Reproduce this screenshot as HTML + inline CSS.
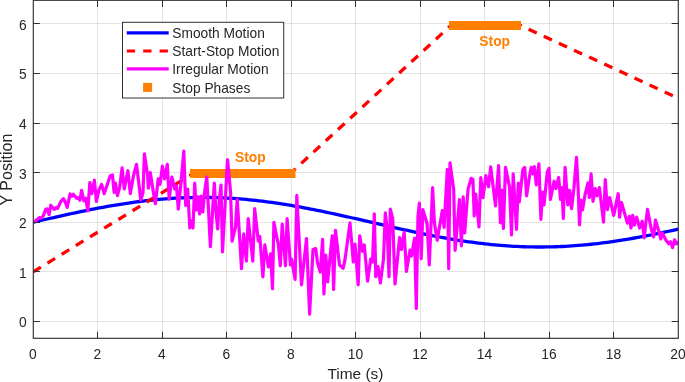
<!DOCTYPE html>
<html><head><meta charset="utf-8"><title>Motion plot</title>
<style>
html,body{margin:0;padding:0;background:#fff;}
body{width:685px;height:382px;overflow:hidden;}
svg{display:block;will-change:transform;}
text{font-family:"Liberation Sans",sans-serif;fill:#262626;}
</style></head><body>
<svg width="685" height="382" viewBox="0 0 685 382">
<rect x="0" y="0" width="685" height="382" fill="#ffffff"/>
<path d="M97.50 0.3V338.3 M162.50 0.3V338.3 M226.50 0.3V338.3 M291.50 0.3V338.3 M355.50 0.3V338.3 M420.50 0.3V338.3 M484.50 0.3V338.3 M549.50 0.3V338.3 M613.50 0.3V338.3 M33.3 321.50H678.3 M33.3 271.50H678.3 M33.3 222.50H678.3 M33.3 172.50H678.3 M33.3 123.50H678.3 M33.3 73.50H678.3 M33.3 23.50H678.3" stroke="#262626" stroke-opacity="0.125" stroke-width="1" fill="none"/>
<clipPath id="c"><rect x="33.3" y="0" width="645.0" height="338.3"/></clipPath>
<g clip-path="url(#c)" fill="none" stroke-linejoin="round">
<polyline points="33.30,222.22 36.52,221.48 39.75,220.73 42.97,219.99 46.20,219.25 49.42,218.51 52.65,217.78 55.88,217.05 59.10,216.33 62.33,215.61 65.55,214.89 68.78,214.19 72.00,213.49 75.22,212.79 78.45,212.11 81.67,211.44 84.90,210.77 88.12,210.12 91.35,209.47 94.57,208.84 97.80,208.22 101.03,207.61 104.25,207.02 107.47,206.44 110.70,205.87 113.92,205.32 117.15,204.78 120.38,204.26 123.60,203.76 126.82,203.27 130.05,202.80 133.28,202.34 136.50,201.91 139.72,201.49 142.95,201.09 146.18,200.71 149.40,200.35 152.62,200.01 155.85,199.69 159.07,199.39 162.30,199.11 165.52,198.85 168.75,198.61 171.97,198.40 175.20,198.20 178.43,198.03 181.65,197.87 184.88,197.74 188.10,197.64 191.32,197.55 194.55,197.49 197.77,197.45 201.00,197.43 204.22,197.43 207.45,197.46 210.68,197.50 213.90,197.57 217.12,197.66 220.35,197.78 223.57,197.92 226.80,198.07 230.02,198.25 233.25,198.45 236.47,198.68 239.70,198.92 242.93,199.19 246.15,199.47 249.38,199.78 252.60,200.10 255.82,200.45 259.05,200.82 262.27,201.20 265.50,201.61 268.72,202.03 271.95,202.47 275.18,202.93 278.40,203.40 281.62,203.90 284.85,204.41 288.07,204.93 291.30,205.47 294.52,206.03 297.75,206.60 300.98,207.18 304.20,207.78 307.43,208.39 310.65,209.02 313.88,209.65 317.10,210.30 320.33,210.96 323.55,211.62 326.77,212.30 330.00,212.99 333.23,213.68 336.45,214.38 339.68,215.09 342.90,215.81 346.12,216.53 349.35,217.26 352.58,217.99 355.80,218.72 359.02,219.46 362.25,220.20 365.48,220.94 368.70,221.68 371.93,222.43 375.15,223.17 378.38,223.91 381.60,224.66 384.83,225.40 388.05,226.13 391.27,226.86 394.50,227.59 397.73,228.32 400.95,229.03 404.18,229.75 407.40,230.45 410.62,231.15 413.85,231.84 417.08,232.52 420.30,233.19 423.52,233.85 426.75,234.51 429.98,235.15 433.20,235.78 436.43,236.39 439.65,237.00 442.88,237.59 446.10,238.16 449.33,238.73 452.55,239.27 455.77,239.81 459.00,240.32 462.23,240.82 465.45,241.31 468.68,241.77 471.90,242.22 475.12,242.65 478.35,243.06 481.58,243.46 484.80,243.83 488.02,244.19 491.25,244.52 494.48,244.84 497.70,245.13 500.93,245.40 504.15,245.66 507.38,245.89 510.60,246.10 513.83,246.29 517.05,246.46 520.27,246.60 523.50,246.73 526.73,246.83 529.95,246.91 533.17,246.97 536.40,247.00 539.62,247.01 542.85,247.01 546.07,246.97 549.30,246.92 552.52,246.84 555.75,246.75 558.98,246.62 562.20,246.48 565.42,246.32 568.65,246.13 571.87,245.93 575.10,245.70 578.32,245.45 581.55,245.18 584.77,244.88 588.00,244.57 591.23,244.24 594.45,243.89 597.67,243.52 600.90,243.13 604.12,242.72 607.35,242.29 610.57,241.84 613.80,241.38 617.02,240.90 620.25,240.40 623.48,239.89 626.70,239.36 629.92,238.81 633.15,238.25 636.37,237.68 639.60,237.09 642.82,236.49 646.05,235.87 649.27,235.25 652.50,234.61 655.73,233.96 658.95,233.30 662.17,232.63 665.40,231.95 668.62,231.26 671.85,230.56 675.07,229.86 678.30,229.15" stroke="#0000ff" stroke-width="3.3"/>
<polyline points="33.30,271.81 194.55,172.63 291.30,172.63 452.55,23.86 517.05,23.86 678.30,98.24" stroke="#ff0000" stroke-width="3.3" stroke-dasharray="8.92 7.73"/>
<path d="M194.55 173.43H291.00 M453.55 25.46H516.55" stroke="#ff8000" stroke-width="9" stroke-linecap="square"/>
<polyline points="33.3,222.0 36.0,220.5 39.2,217.6 41.2,218.1 43.1,216.2 45.8,209.2 47.1,208.9 49.1,214.7 50.8,205.2 54.3,209.4 56.3,207.4 57.6,208.4 60.9,201.3 63.5,198.6 65.5,202.8 67.2,207.4 70.1,193.9 72.0,196.3 73.4,194.3 76.6,198.2 78.0,197.6 79.9,200.2 81.6,190.4 83.9,200.9 85.8,198.2 87.8,211.0 89.8,182.5 91.8,193.7 94.4,180.2 96.4,201.5 99.0,189.7 101.6,184.5 104.2,193.7 106.9,185.8 110.1,175.9 112.5,175.0 114.1,192.3 115.4,183.1 117.4,195.6 119.7,187.2 122.1,167.9 124.3,189.0 125.7,181.7 127.9,170.7 130.3,193.6 133.4,176.2 136.5,164.3 140.8,200.0 143.0,192.7 144.4,153.8 147.5,174.3 148.4,188.1 150.3,172.5 153.0,189.9 155.4,203.7 158.2,178.9 160.0,184.4 162.4,166.1 164.6,178.9 167.3,164.3 169.2,199.1 171.9,177.1 174.7,189.0 176.5,186.3 178.3,209.2 181.1,181.7 183.8,151.2 185.7,205.5 187.7,189.0 189.8,228.0 191.4,221.0 193.0,228.0 194.7,183.0 196.4,210.0 198.0,197.0 199.6,214.0 201.2,196.0 202.8,212.0 204.6,192.0 206.8,177.0 210.4,246.6 214.3,183.0 216.0,212.0 217.7,229.0 219.3,200.0 221.0,185.0 222.5,252.0 227.5,159.5 230.5,191.2 232.1,241.1 235.4,227.3 237.2,199.4 239.1,229.2 241.5,268.6 243.7,233.8 246.4,261.2 248.2,218.7 252.8,261.2 254.7,208.6 258.3,241.1 259.8,236.5 262.9,276.8 264.8,244.8 268.4,266.8 270.6,253.9 272.5,288.7 273.9,222.3 278.5,245.7 280.3,265.8 282.2,224.2 285.5,265.8 287.1,218.7 290.4,264.9 291.7,259.4 295.1,279.5 296.8,195.4 301.5,284.8 306.5,238.5 309.6,314.2 313.0,249.5 315.7,248.6 317.5,262.8 320.3,272.0 322.6,239.4 323.9,294.0 325.8,255.0 327.6,282.0 332.2,235.8 333.6,289.4 335.5,230.3 339.5,265.0 343.2,268.3 345.0,259.6 350.0,222.9 353.3,262.0 355.0,244.0 358.2,284.8 359.7,235.8 362.4,251.3 364.3,245.0 367.6,281.2 370.7,259.0 372.5,262.0 374.3,213.8 375.8,276.6 378.0,266.5 380.4,283.0 383.5,259.0 385.3,212.8 387.2,229.0 389.0,276.6 390.3,209.2 392.7,218.3 395.0,284.0 399.6,237.5 401.4,249.4 404.2,232.0 406.4,271.4 410.0,250.0 411.5,256.0 414.6,238.0 416.3,308.5 418.0,216.0 419.4,203.2 421.2,258.6 422.9,209.6 427.1,223.8 429.3,265.0 432.6,187.6 434.4,222.8 437.2,240.3 442.3,210.5 444.1,227.4 447.3,169.3 448.7,268.7 450.0,162.8 453.7,189.4 455.1,250.3 459.5,199.5 461.4,245.8 463.2,196.8 464.7,232.9 468.0,189.4 471.1,178.4 472.9,179.3 474.2,216.0 475.7,194.0 479.0,227.0 480.8,177.5 483.0,197.7 485.8,175.7 488.5,186.7 490.7,166.9 495.5,205.9 498.6,165.6 500.4,222.8 501.8,190.0 503.4,228.4 505.5,167.4 509.5,186.7 511.5,234.9 513.2,173.8 516.5,229.4 518.3,183.0 519.3,202.0 522.9,169.3 524.7,167.4 526.6,195.8 529.3,177.5 531.2,167.4 533.0,173.8 534.3,166.5 536.3,184.8 538.9,163.8 540.9,219.3 542.5,192.0 544.0,205.0 547.3,172.0 549.0,168.3 550.4,199.5 554.1,181.2 555.9,188.5 558.7,177.5 560.5,199.5 562.0,187.6 563.3,218.4 565.1,167.4 567.8,205.0 569.7,190.3 571.5,208.7 573.9,188.5 576.5,157.3 578.0,185.0 579.5,224.8 581.0,200.0 582.5,210.0 585.0,195.0 588.0,183.0 589.3,197.7 591.1,173.8 593.0,201.3 595.3,188.5 597.1,195.8 599.4,187.6 603.5,222.1 605.3,179.6 607.4,209.6 609.7,197.6 613.7,215.3 618.2,193.7 619.6,217.2 621.5,202.5 627.4,223.1 629.4,216.3 631.0,228.0 632.7,215.3 634.3,225.1 636.7,217.2 639.6,228.0 642.2,221.2 644.1,237.9 647.5,209.4 651.0,228.0 653.6,236.9 655.5,220.2 657.9,228.0 660.8,238.9 662.4,233.0 665.7,239.8 668.7,243.8 670.6,241.8 672.6,247.7 674.6,239.8 676.3,243.8 678.3,241.6" stroke="#ff00ff" stroke-width="3.2" stroke-linejoin="round"/>
</g>
<path d="M97.50 338.3v-6.6M97.50 0.3v6.6 M162.50 338.3v-6.6M162.50 0.3v6.6 M226.50 338.3v-6.6M226.50 0.3v6.6 M291.50 338.3v-6.6M291.50 0.3v6.6 M355.50 338.3v-6.6M355.50 0.3v6.6 M420.50 338.3v-6.6M420.50 0.3v6.6 M484.50 338.3v-6.6M484.50 0.3v6.6 M549.50 338.3v-6.6M549.50 0.3v6.6 M613.50 338.3v-6.6M613.50 0.3v6.6 M33.3 321.50h6.6M678.3 321.50h-6.6 M33.3 271.50h6.6M678.3 271.50h-6.6 M33.3 222.50h6.6M678.3 222.50h-6.6 M33.3 172.50h6.6M678.3 172.50h-6.6 M33.3 123.50h6.6M678.3 123.50h-6.6 M33.3 73.50h6.6M678.3 73.50h-6.6 M33.3 23.50h6.6M678.3 23.50h-6.6" stroke="#303030" stroke-width="1" fill="none"/>
<rect x="33.3" y="0.3" width="645.0" height="338.0" fill="none" stroke="#303030" stroke-width="1.15"/>
<text x="32.90" y="358.7" font-size="13.8" text-anchor="middle">0</text>
<text x="97.40" y="358.7" font-size="13.8" text-anchor="middle">2</text>
<text x="161.90" y="358.7" font-size="13.8" text-anchor="middle">4</text>
<text x="226.40" y="358.7" font-size="13.8" text-anchor="middle">6</text>
<text x="290.90" y="358.7" font-size="13.8" text-anchor="middle">8</text>
<text x="355.40" y="358.7" font-size="13.8" text-anchor="middle">10</text>
<text x="419.90" y="358.7" font-size="13.8" text-anchor="middle">12</text>
<text x="484.40" y="358.7" font-size="13.8" text-anchor="middle">14</text>
<text x="548.90" y="358.7" font-size="13.8" text-anchor="middle">16</text>
<text x="613.40" y="358.7" font-size="13.8" text-anchor="middle">18</text>
<text x="677.90" y="358.7" font-size="13.8" text-anchor="middle">20</text>
<text x="26.8" y="327.30" font-size="13.8" text-anchor="end">0</text>
<text x="26.8" y="277.71" font-size="13.8" text-anchor="end">1</text>
<text x="26.8" y="228.12" font-size="13.8" text-anchor="end">2</text>
<text x="26.8" y="178.53" font-size="13.8" text-anchor="end">3</text>
<text x="26.8" y="128.94" font-size="13.8" text-anchor="end">4</text>
<text x="26.8" y="79.35" font-size="13.8" text-anchor="end">5</text>
<text x="26.8" y="29.76" font-size="13.8" text-anchor="end">6</text>
<text x="355.4" y="378.6" font-size="15.45" text-anchor="middle">Time (s)</text>
<text transform="translate(11.5,169.6) rotate(-90)" font-size="16" text-anchor="middle">Y Position</text>
<text x="250.4" y="161.8" font-size="13.85" font-weight="bold" text-anchor="middle" style="fill:#ff8000">Stop</text>
<text x="494.7" y="45.5" font-size="13.85" font-weight="bold" text-anchor="middle" style="fill:#ff8000">Stop</text>
<rect x="122.5" y="22.3" width="161.2" height="75.7" fill="#ffffff" stroke="#303030" stroke-width="1"/>
<path d="M126.8 32.8H168.7" stroke="#0000ff" stroke-width="3.2"/>
<path d="M126.8 51.0H168.7" stroke="#ff0000" stroke-width="3.2" stroke-dasharray="8.3 8.1"/>
<path d="M126.8 68.9H168.7" stroke="#ff00ff" stroke-width="3.2"/>
<rect x="143.1" y="82.9" width="9" height="9" fill="#ff8000"/>
<text x="172.3" y="38.00" font-size="13.75">Smooth Motion</text>
<text x="172.3" y="56.20" font-size="13.75">Start-Stop Motion</text>
<text x="172.3" y="74.10" font-size="13.75">Irregular Motion</text>
<text x="172.3" y="92.60" font-size="13.75">Stop Phases</text>
</svg>
</body></html>
